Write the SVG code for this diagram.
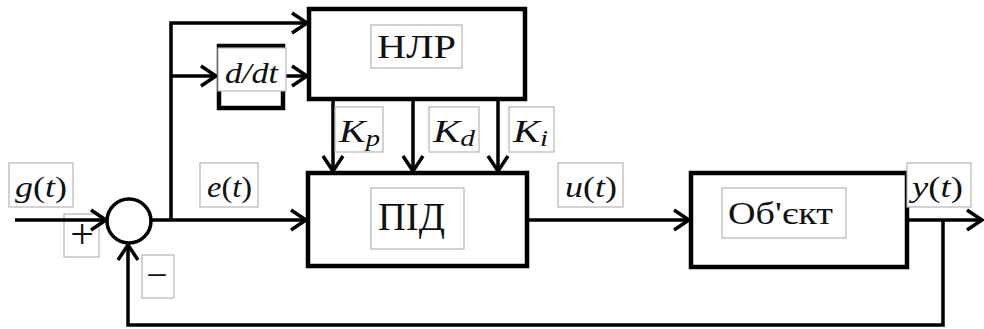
<svg xmlns="http://www.w3.org/2000/svg" width="984" height="329" viewBox="0 0 984 329">
<style>
.blk{fill:#fff;stroke:#000;stroke-width:4.5}
.ln{fill:none;stroke:#000;stroke-width:3.5}
.lb{fill:#fff;stroke:#b4b4b4;stroke-width:1.2}
.t{font-family:"Liberation Serif","DejaVu Serif",serif;fill:#111}
.m{font-family:"Liberation Serif","DejaVu Serif",serif;font-style:italic;fill:#111}
.u{font-style:normal}
</style>
<defs>
<marker id="ar" markerUnits="userSpaceOnUse" markerWidth="24" markerHeight="24" viewBox="-18 -12 20 24" refX="0" refY="0" orient="auto">
<path d="M-15,-10 L0,0 L-15,10" fill="none" stroke="#000" stroke-width="3.5" stroke-linejoin="miter"/>
</marker>
</defs>
<g id="signs">
<rect class="lb" x="64" y="214" width="35" height="43"/>
<text class="t" x="82" y="248" font-size="42" text-anchor="middle">+</text>
<rect class="lb" x="142" y="255" width="32" height="43"/>
<text class="t" x="157" y="288" font-size="38" text-anchor="middle">−</text>
</g>
<g id="connectors">
<path class="ln" d="M171,220 V23 H307" marker-end="url(#ar)"/>
<path class="ln" d="M171,76 H216" marker-end="url(#ar)"/>
<path class="ln" d="M284,76 H307" marker-end="url(#ar)"/>
<path class="ln" d="M333,99 V171" marker-end="url(#ar)"/>
<path class="ln" d="M413,99 V171" marker-end="url(#ar)"/>
<path class="ln" d="M498,99 V171" marker-end="url(#ar)"/>
<path class="ln" d="M15,220 H106" marker-end="url(#ar)"/>
<path class="ln" d="M151,220 H306" marker-end="url(#ar)"/>
<path class="ln" d="M527,220 H689" marker-end="url(#ar)"/>
<path class="ln" d="M907,220 H982" marker-end="url(#ar)"/>
<path class="ln" d="M943,220 V325 H128 V245" marker-end="url(#ar)"/>
</g>
<g id="nlr">
<rect class="blk" x="309" y="9" width="216" height="90"/>
<rect class="lb" x="371" y="25" width="91" height="43"/>
<text class="t" x="377" y="58" font-size="34" textLength="79" lengthAdjust="spacingAndGlyphs">НЛР</text>
</g>
<g id="ddt">
<rect class="blk" x="219" y="46" width="64" height="62"/>
<rect class="lb" x="218" y="48" width="68" height="43"/>
<text class="m" x="225" y="83" font-size="30" textLength="53" lengthAdjust="spacingAndGlyphs">d/dt</text>
</g>
<g id="pid">
<rect class="blk" x="308" y="173" width="219" height="93"/>
<rect class="lb" x="371" y="188" width="93" height="61"/>
<text class="t" x="378" y="230" font-size="41" textLength="67" lengthAdjust="spacingAndGlyphs">ПІД</text>
</g>
<g id="object">
<rect class="blk" x="691" y="173" width="216" height="94"/>
<rect class="lb" x="722" y="188" width="124" height="50"/>
<text class="t" x="728" y="224" font-size="31" textLength="105" lengthAdjust="spacingAndGlyphs">Об'єкт</text>
</g>
<g id="sum">
<circle cx="129" cy="221" r="22" fill="#fff" stroke="#000" stroke-width="3.5"/>
</g>
<g id="labels">
<rect class="lb" x="9" y="163" width="64" height="44"/>
<text class="m" x="15" y="197" font-size="30" textLength="52" lengthAdjust="spacingAndGlyphs">g<tspan class="u">(</tspan>t<tspan class="u">)</tspan></text>
<rect class="lb" x="200" y="163" width="58" height="44"/>
<text class="m" x="207" y="197" font-size="30" textLength="45" lengthAdjust="spacingAndGlyphs">e<tspan class="u">(</tspan>t<tspan class="u">)</tspan></text>
<rect class="lb" x="558" y="163" width="65" height="44"/>
<text class="m" x="565" y="197" font-size="30" textLength="52" lengthAdjust="spacingAndGlyphs">u<tspan class="u">(</tspan>t<tspan class="u">)</tspan></text>
<rect class="lb" x="907" y="163" width="64" height="44"/>
<text class="m" x="912" y="197" font-size="30" textLength="51" lengthAdjust="spacingAndGlyphs">y<tspan class="u">(</tspan>t<tspan class="u">)</tspan></text>
<rect class="lb" x="335" y="107" width="48" height="45"/>
<text class="m" x="339" y="142" font-size="32" textLength="41" lengthAdjust="spacingAndGlyphs">K<tspan font-size="23" dy="4">p</tspan></text>
<rect class="lb" x="429" y="107" width="50" height="45"/>
<text class="m" x="433" y="142" font-size="32" textLength="42" lengthAdjust="spacingAndGlyphs">K<tspan font-size="23" dy="4">d</tspan></text>
<rect class="lb" x="509" y="107" width="45" height="45"/>
<text class="m" x="513" y="142" font-size="32" textLength="35" lengthAdjust="spacingAndGlyphs">K<tspan font-size="23" dy="4">i</tspan></text>
</g>
</svg>
